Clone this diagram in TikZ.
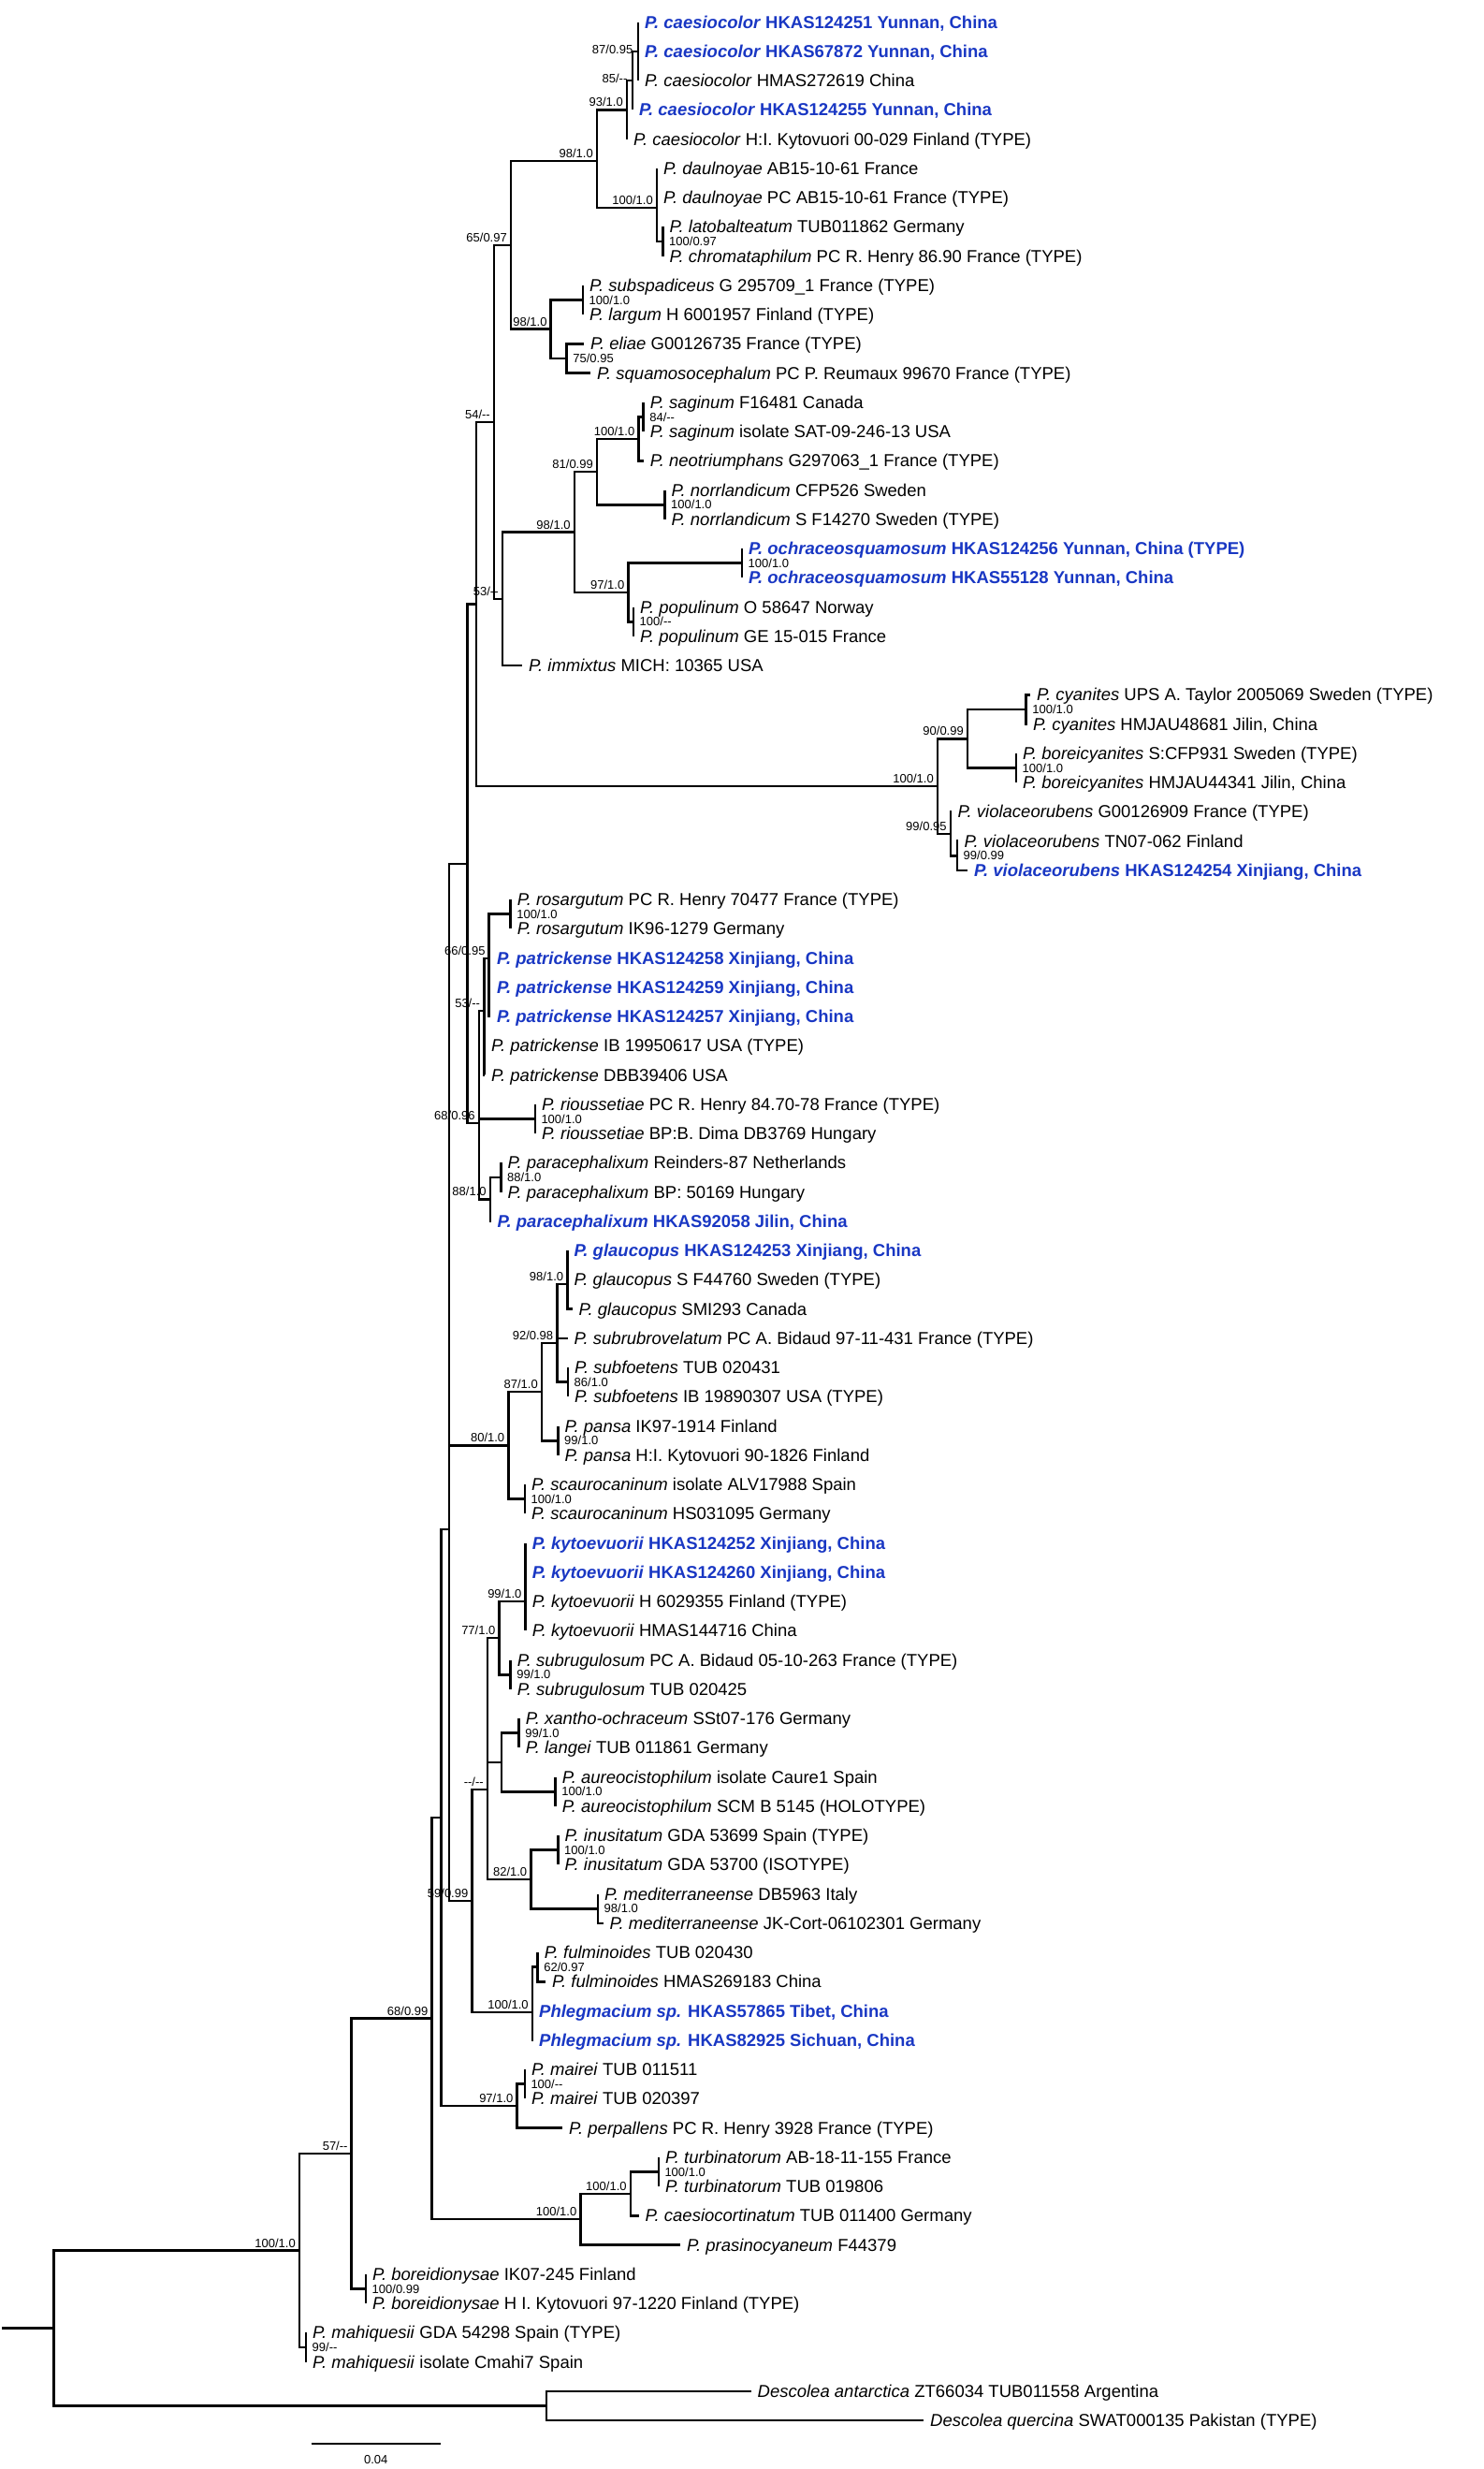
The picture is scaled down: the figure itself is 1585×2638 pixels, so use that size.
\documentclass[tikz,border=0pt]{standalone}
\usepackage{fontspec}
\setmainfont{Liberation Sans}
\definecolor{nblue}{RGB}{25,55,195}
\newcommand\leaffont{\fontsize{18.5}{20}\selectfont}
\newcommand\supfont{\fontsize{13}{14}\selectfont}
\newcommand\dd{-{}-}
\tikzset{
  br/.style={line width=2.6pt, line join=miter},
  leaftext/.style={anchor=base west, inner sep=0pt, font=\leaffont},
  bluetext/.style={anchor=base west, inner sep=0pt, text=nblue, font=\leaffont\bfseries},
  supL/.style={anchor=base east, inner sep=0pt, font=\supfont},
  supR/.style={anchor=base west, inner sep=0pt, font=\supfont},
}
\newcommand\Lf[4]{\coordinate (l#1) at (#2,{23.6+31.25*(#1-1)});
  \draw[br] (#3) |- (l#1);
  \node[leaftext] (t#1) at ([xshift=7pt,yshift=-6.6pt]l#1) {#4};}
\newcommand\Lb[4]{\coordinate (l#1) at (#2,{23.6+31.25*(#1-1)});
  \draw[br] (#3) |- (l#1);
  \node[bluetext] (t#1) at ([xshift=7pt,yshift=-6.6pt]l#1) {#4};}
\newcommand\SL[2]{\node[supL] (s#1) at ([xshift=-4pt,yshift=3.5pt]#1) {#2};}
\newcommand\SR[2]{\node[supR] (s#1) at ([xshift=6.5pt,yshift=-4.6pt]#1) {#2};}
\newcommand\E[2]{\draw[br] (#1) |- (#2);}
\begin{document}
\begin{tikzpicture}[x=1pt,y=-1pt]
\useasboundingbox (0,0) rectangle (1585,2638);
% internal nodes
\coordinate (n8795) at (682,54.85);
\coordinate (n85) at (676,86.1);
\coordinate (n93) at (670,117.35);
\coordinate (nlat) at (708.5,257.98);
\coordinate (ndau) at (702,222);
\coordinate (n98a) at (638,172);
\coordinate (nsub) at (623,320.5);
\coordinate (n75) at (605.7,383);
\coordinate (n98b) at (588.7,351.7);
\coordinate (n65) at (546,262);
\coordinate (n84) at (687.6,445.5);
\coordinate (nsag) at (682.5,469);
\coordinate (nnor) at (710.5,539.2);
\coordinate (n81) at (638,504);
\coordinate (noch) at (793,601.7);
\coordinate (npop) at (677,664.2);
\coordinate (n97) at (671.5,633);
\coordinate (n98c) at (613.8,568.5);
\coordinate (n53a) at (536.8,639.8);
\coordinate (n54) at (528,451);
\coordinate (ncy) at (1096.7,758);
\coordinate (nbor) at (1086,820.5);
\coordinate (n90) at (1034,789.2);
\coordinate (n9999) at (1023,914.2);
\coordinate (n9995) at (1015.8,890.8);
\coordinate (ncyb) at (1002,840);
\coordinate (n509) at (509,645.5);
\coordinate (nros) at (545.6,976.7);
\coordinate (n66) at (522.7,1024);
\coordinate (n53b) at (517.2,1080);
\coordinate (nrio) at (571.8,1195.5);
\coordinate (npara) at (535.4,1258);
\coordinate (n88) at (523.8,1281.4);
\coordinate (n68a) at (511.8,1200);
\coordinate (n499) at (499.3,922.8);
\coordinate (ngla) at (606.3,1372);
\coordinate (nsf) at (607,1476.7);
\coordinate (n92) at (595.4,1435);
\coordinate (npan) at (596.5,1539.2);
\coordinate (n87) at (579,1487);
\coordinate (nsca) at (560.9,1601.7);
\coordinate (n80) at (543.4,1544.4);
\coordinate (nkyt) at (561.6,1711);
\coordinate (nsr) at (545.6,1789.2);
\coordinate (n77) at (533.6,1750);
\coordinate (nxan) at (554.7,1851.7);
\coordinate (naur) at (593.6,1914.2);
\coordinate (n536) at (536,1883);
\coordinate (ninu) at (596.5,1976.7);
\coordinate (nmed) at (639,2039.2);
\coordinate (n82) at (567.4,2008);
\coordinate (ndash) at (520.9,1912);
\coordinate (nful) at (574.7,2101.7);
\coordinate (nphl) at (568.9,2150);
\coordinate (n59) at (504.5,2031);
\coordinate (n480) at (479.8,1634);
\coordinate (nmai) at (560.8,2226.7);
\coordinate (n97b) at (552.6,2250);
\coordinate (n471) at (471.5,1942);
\coordinate (ntur) at (703.8,2320.5);
\coordinate (nturb) at (673.8,2344);
\coordinate (nturc) at (620.5,2371);
\coordinate (n6899) at (461.5,2156.5);
\coordinate (nbd) at (391,2445.5);
\coordinate (n57) at (375.7,2301);
\coordinate (nmah) at (327,2508);
\coordinate (ning) at (320,2404.5);
\coordinate (ndes) at (584,2570.5);
\coordinate (nroot) at (57.2,2487.5);
\coordinate (nrootend) at (2.4,2487.5);
% internal edges
\E{n85}{n8795}\E{n93}{n85}\E{n98a}{n93}\E{ndau}{nlat}\E{n98a}{ndau}
\E{n98b}{nsub}\E{n98b}{n75}\E{n65}{n98a}\E{n65}{n98b}
\E{nsag}{n84}\E{n81}{nsag}\E{n81}{nnor}\E{n97}{noch}\E{n97}{npop}
\E{n98c}{n81}\E{n98c}{n97}\E{n53a}{n98c}\E{n54}{n65}\E{n54}{n53a}
\E{n90}{ncy}\E{n90}{nbor}\E{n9995}{n9999}\E{ncyb}{n90}\E{ncyb}{n9995}
\E{n509}{n54}\E{n509}{ncyb}
\E{n66}{nros}\E{n53b}{n66}\E{n88}{npara}
\E{n68a}{n53b}\E{n68a}{nrio}\E{n68a}{n88}
\E{n499}{n509}\E{n499}{n68a}
\E{n92}{ngla}\E{n92}{nsf}\E{n87}{n92}\E{n87}{npan}\E{n80}{n87}\E{n80}{nsca}
\E{n77}{nkyt}\E{n77}{nsr}\E{n536}{nxan}\E{n536}{naur}\E{n82}{ninu}\E{n82}{nmed}
\E{ndash}{n77}\E{ndash}{n536}\E{ndash}{n82}
\E{nphl}{nful}\E{n59}{ndash}\E{n59}{nphl}
\E{n480}{n499}\E{n480}{n80}\E{n480}{n59}
\E{n97b}{nmai}\E{n471}{n480}\E{n471}{n97b}
\E{nturb}{ntur}\E{nturc}{nturb}\E{n6899}{n471}\E{n6899}{nturc}
\E{n57}{n6899}\E{n57}{nbd}\E{ning}{n57}\E{ning}{nmah}
\E{nroot}{ning}\E{nroot}{ndes}
\draw[br] (nrootend) -- (nroot);
% leaves
\Lb{1}{682}{n8795}{\textit{P. caesiocolor} HKAS124251 Yunnan, China}
\Lb{2}{682}{n8795}{\textit{P. caesiocolor} HKAS67872 Yunnan, China}
\Lf{3}{682}{n8795}{\textit{P. caesiocolor} HMAS272619 China}
\Lb{4}{676}{n85}{\textit{P. caesiocolor} HKAS124255 Yunnan, China}
\Lf{5}{670}{n93}{\textit{P. caesiocolor} H:I. Kytovuori 00-029 Finland (TYPE)}
\Lf{6}{702}{ndau}{\textit{P. daulnoyae} AB15-10-61 France}
\Lf{7}{702}{ndau}{\textit{P. daulnoyae} PC AB15-10-61 France (TYPE)}
\Lf{8}{708.5}{nlat}{\textit{P. latobalteatum} TUB011862 Germany}
\Lf{9}{708.5}{nlat}{\textit{P. chromataphilum} PC R. Henry 86.90 France (TYPE)}
\Lf{10}{623}{nsub}{\textit{P. subspadiceus} G 295709\_1 France (TYPE)}
\Lf{11}{623}{nsub}{\textit{P. largum} H 6001957 Finland (TYPE)}
\Lf{12}{624}{n75}{\textit{P. eliae} G00126735 France (TYPE)}
\Lf{13}{631}{n75}{\textit{P. squamosocephalum} PC P. Reumaux 99670 France (TYPE)}
\Lf{14}{687.6}{n84}{\textit{P. saginum} F16481 Canada}
\Lf{15}{687.6}{n84}{\textit{P. saginum} isolate SAT-09-246-13 USA}
\Lf{16}{687.6}{nsag}{\textit{P. neotriumphans} G297063\_1 France (TYPE)}
\Lf{17}{710.5}{nnor}{\textit{P. norrlandicum} CFP526 Sweden}
\Lf{18}{710.5}{nnor}{\textit{P. norrlandicum} S F14270 Sweden (TYPE)}
\Lb{19}{793}{noch}{\textit{P. ochraceosquamosum} HKAS124256 Yunnan, China (TYPE)}
\Lb{20}{793}{noch}{\textit{P. ochraceosquamosum} HKAS55128 Yunnan, China}
\Lf{21}{677}{npop}{\textit{P. populinum} O 58647 Norway}
\Lf{22}{677}{npop}{\textit{P. populinum} GE 15-015 France}
\Lf{23}{558}{n53a}{\textit{P. immixtus} MICH: 10365 USA}
\Lf{24}{1101}{ncy}{\textit{P. cyanites} UPS A. Taylor 2005069 Sweden (TYPE)}
\Lf{25}{1097}{ncy}{\textit{P. cyanites} HMJAU48681 Jilin, China}
\Lf{26}{1086}{nbor}{\textit{P. boreicyanites} S:CFP931 Sweden (TYPE)}
\Lf{27}{1086}{nbor}{\textit{P. boreicyanites} HMJAU44341 Jilin, China}
\Lf{28}{1016.5}{n9995}{\textit{P. violaceorubens} G00126909 France (TYPE)}
\Lf{29}{1023.5}{n9999}{\textit{P. violaceorubens} TN07-062 Finland}
\Lb{30}{1034}{n9999}{\textit{P. violaceorubens} HKAS124254 Xinjiang, China}
\Lf{31}{545.6}{nros}{\textit{P. rosargutum} PC R. Henry 70477 France (TYPE)}
\Lf{32}{545.6}{nros}{\textit{P. rosargutum} IK96-1279 Germany}
\Lb{33}{524}{n66}{\textit{P. patrickense} HKAS124258 Xinjiang, China}
\Lb{34}{524}{n66}{\textit{P. patrickense} HKAS124259 Xinjiang, China}
\Lb{35}{524}{n66}{\textit{P. patrickense} HKAS124257 Xinjiang, China}
\Lf{36}{518}{n53b}{\textit{P. patrickense} IB 19950617 USA (TYPE)}
\Lf{37}{518}{n53b}{\textit{P. patrickense} DBB39406 USA}
\Lf{38}{571.8}{nrio}{\textit{P. rioussetiae} PC R. Henry 84.70-78 France (TYPE)}
\Lf{39}{571.8}{nrio}{\textit{P. rioussetiae} BP:B. Dima DB3769 Hungary}
\Lf{40}{535.4}{npara}{\textit{P. paracephalixum} Reinders-87 Netherlands}
\Lf{41}{535.4}{npara}{\textit{P. paracephalixum} BP: 50169 Hungary}
\Lb{42}{524.5}{n88}{\textit{P. paracephalixum} HKAS92058 Jilin, China}
\Lb{43}{606.3}{ngla}{\textit{P. glaucopus} HKAS124253 Xinjiang, China}
\Lf{44}{606.3}{ngla}{\textit{P. glaucopus} S F44760 Sweden (TYPE)}
\Lf{45}{611.5}{ngla}{\textit{P. glaucopus} SMI293 Canada}
\Lf{46}{606.5}{n92}{\textit{P. subrubrovelatum} PC A. Bidaud 97-11-431 France (TYPE)}
\Lf{47}{607}{nsf}{\textit{P. subfoetens} TUB 020431}
\Lf{48}{607}{nsf}{\textit{P. subfoetens} IB 19890307 USA (TYPE)}
\Lf{49}{596.5}{npan}{\textit{P. pansa} IK97-1914 Finland}
\Lf{50}{596.5}{npan}{\textit{P. pansa} H:I. Kytovuori 90-1826 Finland}
\Lf{51}{560.9}{nsca}{\textit{P. scaurocaninum} isolate ALV17988 Spain}
\Lf{52}{560.9}{nsca}{\textit{P. scaurocaninum} HS031095 Germany}
\Lb{53}{561.6}{nkyt}{\textit{P. kytoevuorii} HKAS124252 Xinjiang, China}
\Lb{54}{561.6}{nkyt}{\textit{P. kytoevuorii} HKAS124260 Xinjiang, China}
\Lf{55}{561.6}{nkyt}{\textit{P. kytoevuorii} H 6029355 Finland (TYPE)}
\Lf{56}{561.6}{nkyt}{\textit{P. kytoevuorii} HMAS144716 China}
\Lf{57}{545.6}{nsr}{\textit{P. subrugulosum} PC A. Bidaud 05-10-263 France (TYPE)}
\Lf{58}{545.6}{nsr}{\textit{P. subrugulosum} TUB 020425}
\Lf{59}{554.7}{nxan}{\textit{P. xantho-ochraceum} SSt07-176 Germany}
\Lf{60}{554.7}{nxan}{\textit{P. langei} TUB 011861 Germany}
\Lf{61}{593.6}{naur}{\textit{P. aureocistophilum} isolate Caure1 Spain}
\Lf{62}{593.6}{naur}{\textit{P. aureocistophilum} SCM B 5145 (HOLOTYPE)}
\Lf{63}{596.5}{ninu}{\textit{P. inusitatum} GDA 53699 Spain (TYPE)}
\Lf{64}{596.5}{ninu}{\textit{P. inusitatum} GDA 53700 (ISOTYPE)}
\Lf{65}{639}{nmed}{\textit{P. mediterraneense} DB5963 Italy}
\Lf{66}{644.5}{nmed}{\textit{P. mediterraneense} JK-Cort-06102301 Germany}
\Lf{67}{574.7}{nful}{\textit{P. fulminoides} TUB 020430}
\Lf{68}{583}{nful}{\textit{P. fulminoides} HMAS269183 China}
\Lb{69}{569}{nphl}{\textit{Phlegmacium sp.} HKAS57865 Tibet, China}
\Lb{70}{569}{nphl}{\textit{Phlegmacium sp.} HKAS82925 Sichuan, China}
\Lf{71}{560.8}{nmai}{\textit{P. mairei} TUB 011511}
\Lf{72}{560.8}{nmai}{\textit{P. mairei} TUB 020397}
\Lf{73}{601}{n97b}{\textit{P. perpallens} PC R. Henry 3928 France (TYPE)}
\Lf{74}{703.8}{ntur}{\textit{P. turbinatorum} AB-18-11-155 France}
\Lf{75}{703.8}{ntur}{\textit{P. turbinatorum} TUB 019806}
\Lf{76}{682.5}{nturb}{\textit{P. caesiocortinatum} TUB 011400 Germany}
\Lf{77}{727}{nturc}{\textit{P. prasinocyaneum} F44379}
\Lf{78}{391}{nbd}{\textit{P. boreidionysae} IK07-245 Finland}
\Lf{79}{391}{nbd}{\textit{P. boreidionysae} H I. Kytovuori 97-1220 Finland (TYPE)}
\Lf{80}{327}{nmah}{\textit{P. mahiquesii} GDA 54298 Spain (TYPE)}
\Lf{81}{327}{nmah}{\textit{P. mahiquesii} isolate Cmahi7 Spain}
\Lf{82}{802.5}{ndes}{\textit{Descolea antarctica} ZT66034 TUB011558 Argentina}
\Lf{83}{987}{ndes}{\textit{Descolea quercina} SWAT000135 Pakistan (TYPE)}
% support values
\node[supL] (sn8795) at ([xshift=-5.5pt,yshift=-2.2pt]n8795) {87/0.95};
\node[supL] (sn85) at ([xshift=-5.4pt,yshift=-2pt]n85) {85/\dd};
\SL{n93}{93/1.0}\SL{n98a}{98/1.0}\SL{ndau}{100/1.0}\SL{n65}{65/0.97}
\SL{n98b}{98/1.0}\SL{n54}{54/\dd}\SL{nsag}{100/1.0}\SL{n81}{81/0.99}
\SL{n98c}{98/1.0}\SL{n53a}{53/\dd}\SL{n97}{97/1.0}\SL{n90}{90/0.99}
\SL{ncyb}{100/1.0}\SL{n9995}{99/0.95}\SL{n66}{66/0.95}\SL{n53b}{53/\dd}
\SL{n68a}{68/0.96}\SL{n88}{88/1.0}\SL{ngla}{98/1.0}\SL{n92}{92/0.98}
\SL{n87}{87/1.0}\SL{n80}{80/1.0}\SL{nkyt}{99/1.0}\SL{n77}{77/1.0}
\SL{ndash}{\dd/\dd}\SL{n82}{82/1.0}\SL{n59}{59/0.99}\SL{nphl}{100/1.0}
\SL{n97b}{97/1.0}\SL{nturb}{100/1.0}\SL{nturc}{100/1.0}\SL{n6899}{68/0.99}
\SL{n57}{57/\dd}\SL{ning}{100/1.0}
\SR{nlat}{100/0.97}\SR{nsub}{100/1.0}\SR{n75}{75/0.95}\SR{n84}{84/\dd}
\SR{nnor}{100/1.0}\SR{noch}{100/1.0}\SR{npop}{100/\dd}\SR{ncy}{100/1.0}
\SR{nbor}{100/1.0}\SR{n9999}{99/0.99}\SR{nros}{100/1.0}\SR{nrio}{100/1.0}
\SR{npara}{88/1.0}\SR{nsf}{86/1.0}\SR{npan}{99/1.0}\SR{nsca}{100/1.0}
\SR{nsr}{99/1.0}\SR{nxan}{99/1.0}\SR{naur}{100/1.0}\SR{ninu}{100/1.0}
\SR{nmed}{98/1.0}\SR{nful}{62/0.97}\SR{nmai}{100/\dd}\SR{ntur}{100/1.0}
\SR{nbd}{100/0.99}\SR{nmah}{99/\dd}
% scale bar
\coordinate (sbL) at (332.5,2611);
\coordinate (sbR) at (471,2611);
\draw[line width=1.4pt] (sbL) -- (sbR);
\node[font=\supfont, anchor=base, inner sep=0pt] (sblab) at (401.7,2632.5) {0.04};
\end{tikzpicture}
\end{document}
